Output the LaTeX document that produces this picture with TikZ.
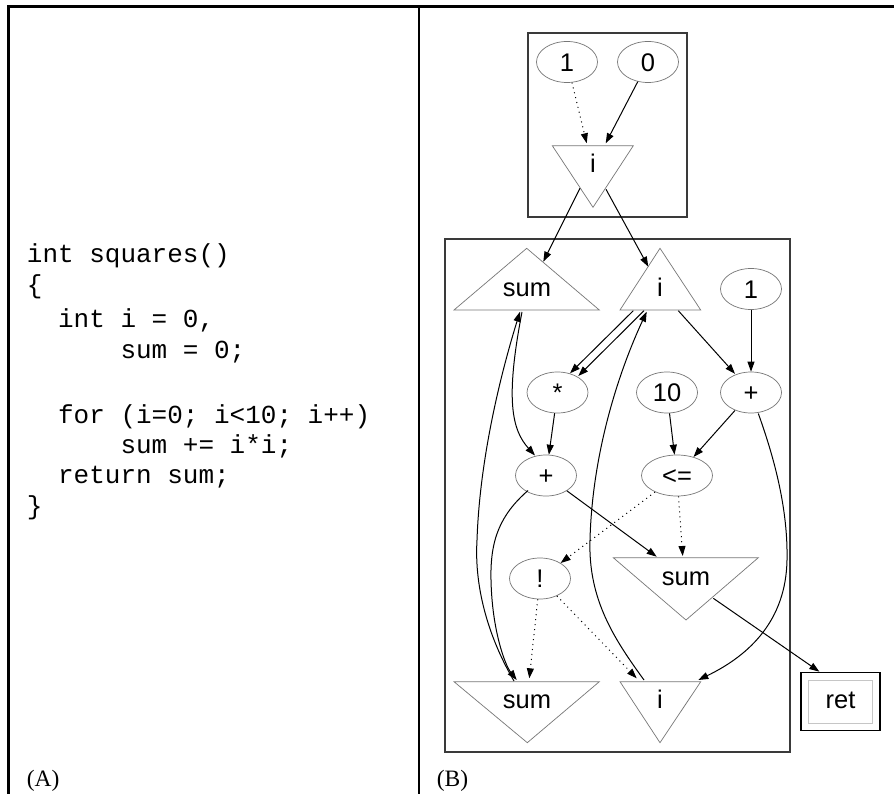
\documentclass[tikz,border=0pt]{standalone}
\usepackage{fontspec}
\setmainfont{Liberation Serif}
\newfontfamily\hvfont{Liberation Sans}
\newfontfamily\courfont{Liberation Mono}
\usetikzlibrary{shapes.geometric,arrows.meta,calc}
\definecolor{shapegray}{HTML}{777777}
\definecolor{boxgray}{HTML}{3A3A3A}
\begin{document}
\frenchspacing
\begin{tikzpicture}[x=1pt,y=-1pt,
  ell/.style={ellipse, draw=shapegray, line width=0.7pt, minimum width=61pt, minimum height=41pt,
    inner sep=0pt, font=\hvfont\fontsize{25.5}{30}\selectfont, text height=18.3pt, text depth=0pt},
  tri/.style={draw=shapegray, line width=0.7pt},
  lbl/.style={anchor=base, inner sep=0pt, font=\hvfont\fontsize{25.5}{30}\selectfont},
  code/.style={anchor=base west, inner sep=0pt, font=\courfont\fontsize{26}{30}\selectfont},
  panellabel/.style={anchor=base west, inner sep=0pt, font=\fontsize{23.5}{28}\selectfont},
  cluster/.style={draw=boxgray, line width=1.2pt},
  edge/.style={line width=1pt, -{Triangle[length=10pt,width=7pt]}},
  dotedge/.style={edge, dash pattern=on 1pt off 4pt}
]
\useasboundingbox (0,0) rectangle (894,794);
\fill[white] (0,0) rectangle (894,794);
% frame
\draw[line width=2.5pt] (8.5,800) -- (8.5,6.7) -- (900,6.7);
\draw[line width=2.5pt] (419,6.7) -- (419,800);

% code
\node[code] (c1) at (26.7,263) {int squares()};
\node[code] (c2) at (26.7,294) {\{};
\node[code] (c3) at (57.9,327) {int i = 0,};
\node[code] (c4) at (120.3,358) {sum = 0;};
\node[code] (c5) at (57.9,423) {for (i=0; i<10; i++)};
\node[code] (c6) at (120.3,453) {sum += i*i;};
\node[code] (c7) at (57.9,483) {return sum;};
\node[code] (c8) at (26.7,514) {\}};

\node[panellabel] (capA) at (26.7,786) {(A)};
\node[panellabel] (capB) at (436.7,786) {(B)};

% clusters
\draw[cluster] (528,33) rectangle (687,217);
\draw[cluster] (445,239) rectangle (790,752);

% ellipses
\node[ell] (one) at (567,62) {1};
\node[ell] (zero) at (648,62) {0};
\node[ell] (oneR) at (751,289) {1};
\node[ell] (star) at (557.5,392.5) {*};
\node[ell] (ten) at (667,392.5) {10};
\node[ell] (plusR) at (751,392.5) {+};
\node[ell] (plusM) at (546,475.5) {+};
\node[ell, minimum width=71pt] (le) at (677,475.5) {<=};
\node[ell] (bang) at (540,578.5) {!};

% triangles
\draw[tri] (552.3,145.7) -- (633.3,145.7) -- (593,207.3) -- cycle;
\node[lbl] (tI) at (593,172.7) {i};
\draw[tri] (454,310) -- (599.3,310) -- (526.7,248.3) -- cycle;
\node[lbl] (sumU) at (527,297) {sum};
\draw[tri] (620,310) -- (700.7,310) -- (660,248.3) -- cycle;
\node[lbl] (iU) at (660,297) {i};
\draw[tri] (613.3,557.7) -- (758.3,557.7) -- (686,620) -- cycle;
\node[lbl] (sumM) at (686,585) {sum};
\draw[tri] (454,681.7) -- (599.3,681.7) -- (527.3,742.7) -- cycle;
\node[lbl] (sumB) at (527,708) {sum};
\draw[tri] (620,681.7) -- (700.7,681.7) -- (660,742.7) -- cycle;
\node[lbl] (iB) at (660,708) {i};

% ret
\node[draw, line width=1.3pt, minimum width=79pt, minimum height=58.4pt, inner sep=0pt,
  font=\hvfont\fontsize{25.5}{30}\selectfont, text height=13.6pt, text depth=0pt] (ret) at (840.5,701.5) {ret};
\draw[gray!45, line width=0.6pt] ($(ret.north west)+(8.3,8.3)$) rectangle ($(ret.south east)+(-8.3,-8.3)$);

% edges
\draw[dotedge] (one) -- ($(tI.base)+(-6.3,-29.4)$);
\draw[edge] (zero) -- ($(tI.base)+(12.7,-29.4)$);
\draw[edge] ($(tI.base)+(-13,15.6)$) -- ($(sumU.base)+(16.3,-35.3)$);
\draw[edge] ($(tI.base)+(13,16.6)$) -- ($(iU.base)+(-11.7,-30.3)$);
\draw[edge] ($(iU.base)+(-26.7,13.7)$) -- ($(star)+(12.5,-19.2)$);
\draw[edge] ($(iU.base)+(-16,13.7)$) -- ($(star)+(20.8,-16.5)$);
\draw[edge] ($(iU.base)+(18.3,13.7)$) -- ($(plusR)+(-16,-18.7)$);
\draw[edge] (oneR) -- (plusR);
\draw[edge] (ten) -- (le);
\draw[edge] (plusR) -- (le);
\draw[edge] (star) -- (plusM);
\draw[edge] ($(sumU.base)+(-5,15)$) .. controls (505,400) and (512,430) .. ($(plusM)+(-11,-20)$);
\draw[edge] ($(plusM)+(-18,15)$) .. controls (500,515) and (490,540) .. (491,580)
  .. controls (492,630) and (505,665) .. ($(sumB.base)+(-10.3,-28)$);
\draw[edge] ($(sumB.base)+(-13,-27)$) .. controls (490,640) and (474,590) .. (477,540)
  .. controls (480,450) and (505,360) .. ($(sumU.base)+(-7,14.7)$);
\draw[edge] (plusM) -- ($(sumM.base)+(-29.3,-28.3)$);
\draw[dotedge] (le) -- (bang);
\draw[dotedge] (le) -- ($(sumM.base)+(-3.3,-29)$);
\draw[dotedge] (bang) -- ($(sumB.base)+(2.3,-29.7)$);
\draw[dotedge] (bang) -- ($(iB.base)+(-23.3,-29.7)$);
\draw[edge] ($(iB.base)+(-16,-28)$) .. controls (615,640) and (588,600) .. (590,540)
  .. controls (592,460) and (615,380) .. ($(iU.base)+(-13.3,14.7)$);
\draw[edge] ($(plusR)+(7.3,21)$) .. controls (775,460) and (788,510) .. (787,560)
  .. controls (786,620) and (750,655) .. ($(iB.base)+(38.3,-28)$);
\draw[edge] ($(sumM.base)+(27.3,13.3)$) -- ($(ret.north west)+(19,0)$);
\end{tikzpicture}
\end{document}
